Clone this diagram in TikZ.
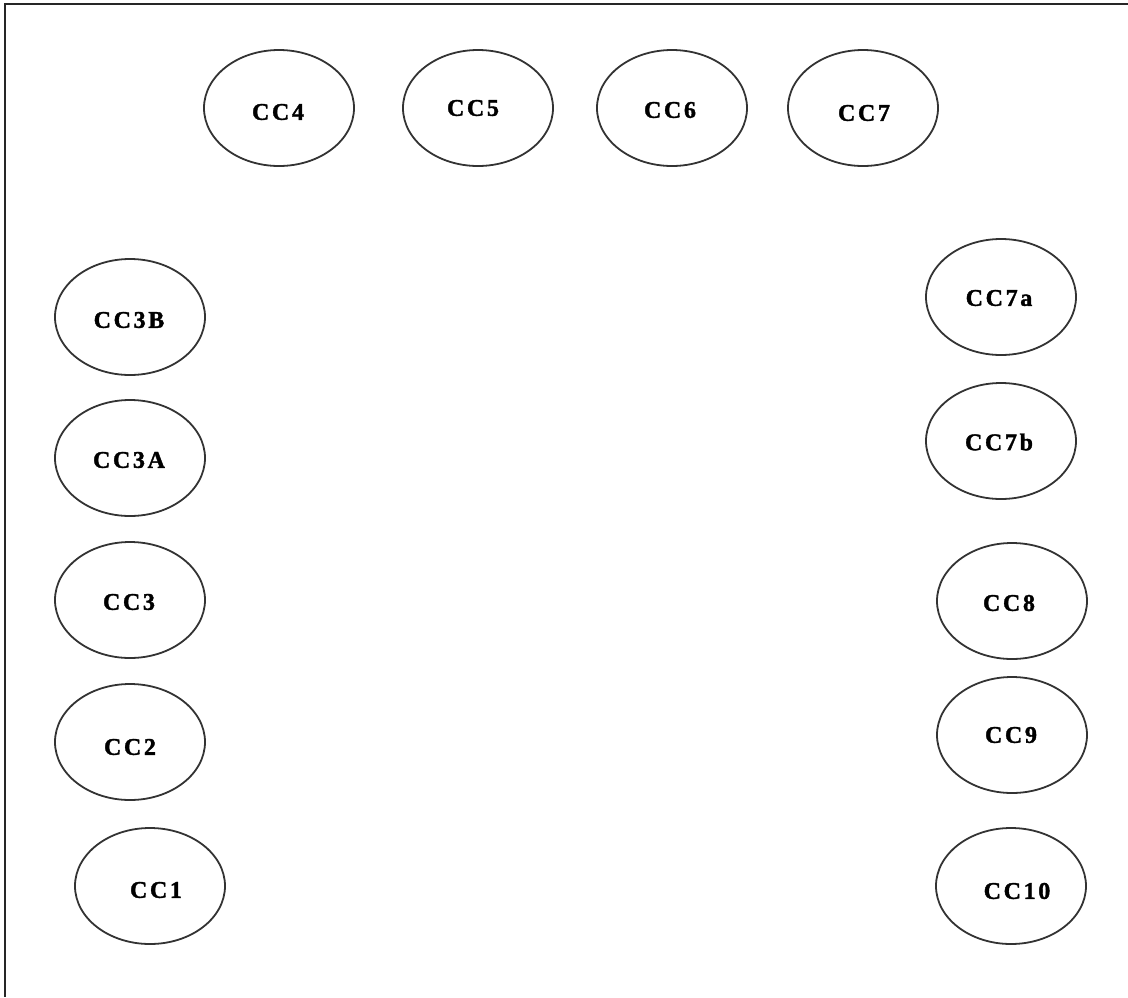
\documentclass[tikz,border=0pt]{standalone}
\usepackage{fontspec}
\setmainfont{Liberation Serif}
\newfontfamily\lblfont[LetterSpace=11,FakeBold=1.5]{Liberation Serif Bold}
\usetikzlibrary{shapes.geometric}
\tikzset{
  cc/.style={draw=black!80, line width=1.8pt, ellipse, minimum width=150pt, minimum height=116pt, inner sep=0pt},
  lbl/.style={font=\fontsize{24}{24}\lblfont, inner sep=0pt, text=black},
  frame/.style={draw=black!85, line width=2.2pt}
}
\begin{document}
\begin{tikzpicture}[x=1pt,y=-1pt]
\useasboundingbox (0,0) rectangle (1128,997);
\coordinate (tl) at (5,4);
\coordinate (tr) at (1128,4);
\coordinate (bl) at (5,997);
\draw[frame] (tr) -- (tl) -- (bl);
% top row
\node[cc] (cc4) at (279,108) {};
\node[lbl] (t4) at (278,112) {CC4};
\node[cc] (cc5) at (478,108) {};
\node[lbl] (t5) at (473,108) {CC5};
\node[cc] (cc6) at (672,108) {};
\node[lbl] (t6) at (670,110) {CC6};
\node[cc] (cc7) at (863,108) {};
\node[lbl] (t7) at (864,113) {CC7};
% left column
\node[cc] (cc3b) at (130,317) {};
\node[lbl] (t3b) at (129,320) {CC3B};
\node[cc] (cc3a) at (130,458) {};
\node[lbl] (t3a) at (129,460) {CC3A};
\node[cc] (cc3) at (130,600) {};
\node[lbl] (t3) at (129,602) {CC3};
\node[cc] (cc2) at (130,742) {};
\node[lbl] (t2) at (130,747) {CC2};
\node[cc] (cc1) at (150,886) {};
\node[lbl] (t1) at (156,890) {CC1};
% right column
\node[cc] (cc7a) at (1001,297) {};
\node[lbl] (t7a) at (999,298) {CC7a};
\node[cc] (cc7b) at (1001,441) {};
\node[lbl] (t7b) at (999,442) {CC7b};
\node[cc] (cc8) at (1012,601) {};
\node[lbl] (t8) at (1009,603) {CC8};
\node[cc] (cc9) at (1012,735) {};
\node[lbl] (t9) at (1011,735) {CC9};
\node[cc] (cc10) at (1011,886) {};
\node[lbl] (t10) at (1017,891) {CC10};
\end{tikzpicture}
\end{document}
